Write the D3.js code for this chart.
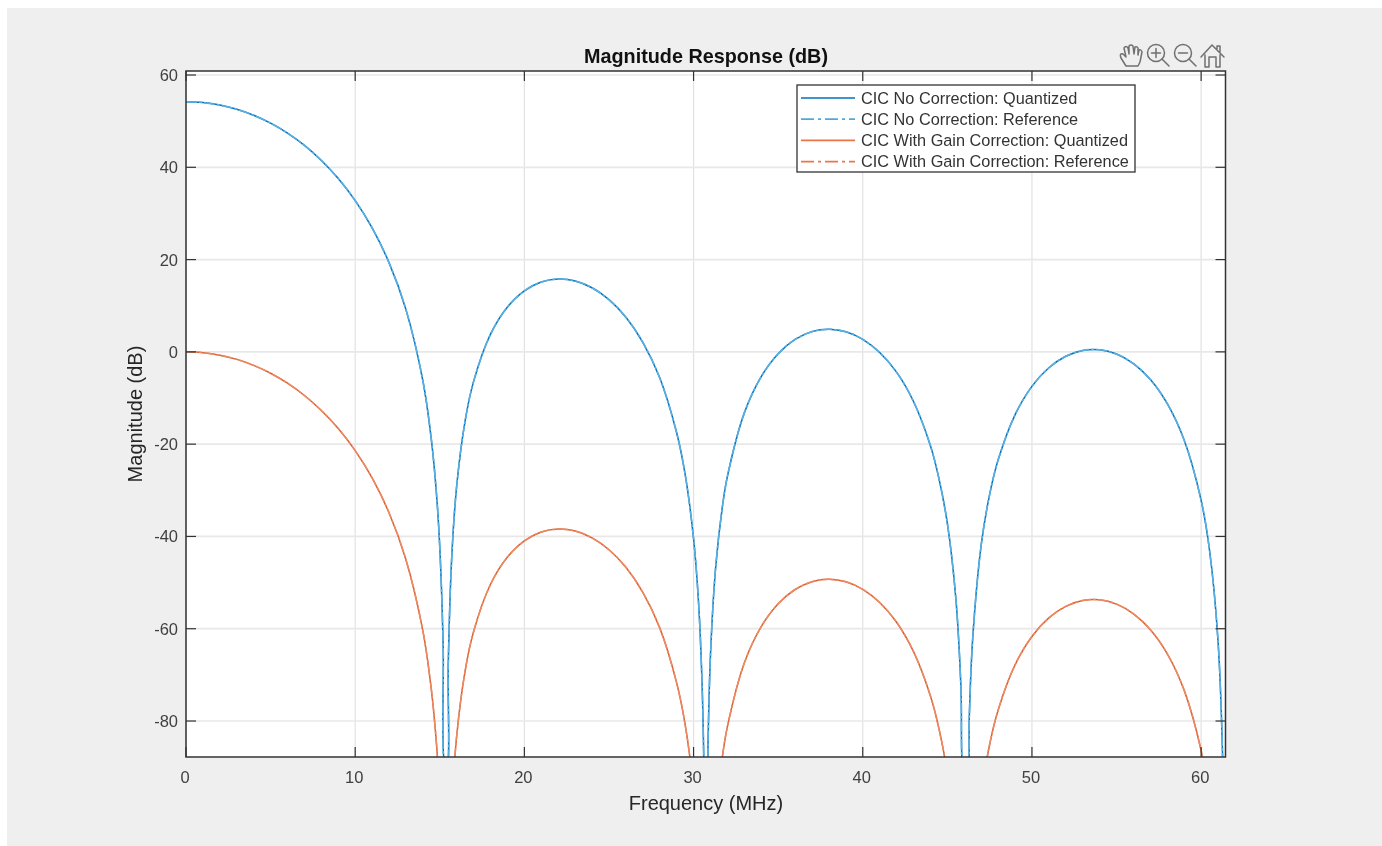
<!DOCTYPE html>
<html>
<head>
<meta charset="utf-8">
<script src="https://cdn.jsdelivr.net/npm/d3@7/dist/d3.min.js"></script>
<style>
html,body{margin:0;padding:0;background:#fff;overflow:hidden}
svg{display:block;filter:blur(0.4px)}
text{font-family:"Liberation Sans",Arial,sans-serif}
</style>
</head>
<body>
<div id="chart"></div>
<script>
const titleText = "Magnitude Response (dB)";
const xLabel = "Frequency (MHz)";
const yLabel = "Magnitude (dB)";
const xTicks = [0,10,20,30,40,50,60];
const yTicks = [60,40,20,0,-20,-40,-60,-80];
const seriesNames = ["CIC No Correction: Quantized","CIC No Correction: Reference","CIC With Gain Correction: Quantized","CIC With Gain Correction: Reference"];

const frequency = [0,1,2,3,4,5,6,7,8,9,10,11,12,13,14,14.5,14.8,15,15.2,15.3,15.42,15.5,15.7,16,16.5,17,18,19,20,21,22,23,24,25,26,27,28,29,29.5,30,30.3,30.5,30.6,30.64,30.8,30.85,31,31.3,31.7,32,33,34,35,36,37,38,39,40,41,42,43,44,44.5,45,45.5,45.8,45.95,46.2,46.3,46.5,47,47.5,48,49,50,51,52,53,54,55,56,57,58,59,60,60.5,61,61.3,61.44];

const noCorrectionQuantized = [54.2,54.02,53.48,52.58,51.27,49.56,47.4,44.74,41.49,37.57,32.79,26.88,19.35,9.16,-6.26,-18.95,-30.55,-42.37,-63.8,-89.5,-89.85,-67.77,-44.99,-29.02,-14.89,-6.4,3.83,9.73,13.24,15.15,15.8,15.37,13.89,11.31,7.51,2.08,-5.62,-17.53,-26.51,-40.49,-54.67,-71.6,-87.45,-98,-98,-85.6,-65.69,-46.95,-33.65,-27,-13.22,-5.35,-0.4,2.7,4.39,4.91,4.37,2.72,-0.13,-4.4,-10.76,-20.36,-27.4,-37.17,-53.36,-72.37,-92.35,-94.6,-78.8,-62.04,-41.86,-30.89,-23.45,-13.64,-7.47,-3.45,-0.95,0.31,0.46,-0.47,-2.57,-6,-11.23,-19.16,-32.19,-43.1,-62.76,-92.6,-150];
const noCorrectionReference = noCorrectionQuantized;

const gainCorrectionQuantized = [0,-0.18,-0.72,-1.62,-2.93,-4.64,-6.8,-9.46,-12.71,-16.63,-21.41,-27.32,-34.85,-45.04,-60.46,-73.15,-84.75,-96.57,-118,-143.7,-144.05,-121.97,-99.19,-83.22,-69.09,-60.6,-50.37,-44.47,-40.96,-39.05,-38.4,-38.83,-40.31,-42.89,-46.69,-52.12,-59.82,-71.73,-80.71,-94.69,-108.87,-125.8,-141.65,-152,-152,-139.8,-119.89,-101.15,-87.85,-81.2,-67.42,-59.55,-54.6,-51.5,-49.81,-49.29,-49.83,-51.48,-54.33,-58.6,-64.96,-74.56,-81.6,-91.37,-107.56,-126.57,-146.55,-148.8,-133,-116.2,-96.06,-85.09,-77.65,-67.84,-61.67,-57.65,-55.15,-53.89,-53.74,-54.67,-56.77,-60.2,-65.43,-73.36,-86.39,-97.3,-116.96,-146.8,-200];
const gainCorrectionReference = gainCorrectionQuantized;

const W = 1382, H = 846;
const plot = {l:186, r:1225.5, t:71, b:757};
const x = d3.scaleLinear().domain([0,61.44]).range([plot.l,plot.r]);
const y = d3.scaleLinear().domain([60.87,-87.8]).range([plot.t,plot.b]);

const svg = d3.select("#chart").append("svg").attr("width",W).attr("height",H);
svg.append("rect").attr("x",7).attr("y",8).attr("width",W-7).attr("height",H-8).attr("fill","#efefef");
svg.append("rect").attr("x",plot.l).attr("y",plot.t).attr("width",plot.r-plot.l).attr("height",plot.b-plot.t).attr("fill","#fff");

// grid
svg.append("g").selectAll("line").data(xTicks).join("line")
  .attr("x1",d=>x(d)).attr("x2",d=>x(d)).attr("y1",plot.t).attr("y2",plot.b)
  .attr("stroke","#e2e2e2").attr("stroke-width",1.2);
svg.append("g").selectAll("line").data(yTicks).join("line")
  .attr("y1",d=>y(d)).attr("y2",d=>y(d)).attr("x1",plot.l).attr("x2",plot.r)
  .attr("stroke","#e8e8e8").attr("stroke-width",1.7);

// curves
svg.append("defs").append("clipPath").attr("id","plotClip").append("rect")
  .attr("x",plot.l).attr("y",plot.t).attr("width",plot.r-plot.l).attr("height",plot.b-plot.t);
const line = d3.line().x((d,i)=>x(frequency[i])).y(d=>y(d)).curve(d3.curveCatmullRom.alpha(0.5));
const styles = [
  {data:gainCorrectionQuantized,color:"#d95f2e",dash:null,w:1.5},
  {data:gainCorrectionReference,color:"#ee8a63",dash:"11 2 3 2",w:1.5},
  {data:noCorrectionQuantized,color:"#0072bd",dash:null,w:1.5},
  {data:noCorrectionReference,color:"#5aafe2",dash:"11 2 3 2",w:1.6}
];
const curves = svg.append("g").attr("clip-path","url(#plotClip)");
styles.forEach(s=>{
  curves.append("path").attr("d",line(s.data)).attr("fill","none")
    .attr("stroke",s.color).attr("stroke-width",s.w).attr("stroke-dasharray",s.dash);
});

// axes box
const axisColor = "#333";
svg.append("rect").attr("x",plot.l).attr("y",plot.t).attr("width",plot.r-plot.l).attr("height",plot.b-plot.t)
  .attr("fill","none").attr("stroke",axisColor).attr("stroke-width",1.5);

const tickLen = 10;
const ticks = svg.append("g").attr("stroke",axisColor).attr("stroke-width",1.2);
xTicks.forEach(d=>{
  ticks.append("line").attr("x1",x(d)).attr("x2",x(d)).attr("y1",plot.b).attr("y2",plot.b-tickLen);
  ticks.append("line").attr("x1",x(d)).attr("x2",x(d)).attr("y1",plot.t).attr("y2",plot.t+tickLen);
});
yTicks.forEach(d=>{
  ticks.append("line").attr("y1",y(d)).attr("y2",y(d)).attr("x1",plot.l).attr("x2",plot.l+tickLen);
  ticks.append("line").attr("y1",y(d)).attr("y2",y(d)).attr("x1",plot.r).attr("x2",plot.r-tickLen);
});

// tick labels
svg.append("g").selectAll("text").data(xTicks).join("text")
  .attr("x",d=>x(d)-1).attr("y",plot.b+26).attr("text-anchor","middle")
  .attr("font-size",16.5).attr("fill","#404040").text(d=>d);
svg.append("g").selectAll("text").data(yTicks).join("text")
  .attr("x",plot.l-8).attr("y",d=>y(d)+6).attr("text-anchor","end")
  .attr("font-size",16.5).attr("fill","#404040").text(d=>d);

// labels
svg.append("text").attr("x",706).attr("y",63).attr("text-anchor","middle")
  .attr("font-size",19.8).attr("font-weight","bold").attr("fill","#111").text(titleText);
svg.append("text").attr("x",706).attr("y",810).attr("text-anchor","middle")
  .attr("font-size",20).attr("fill","#262626").text(xLabel);
svg.append("text").attr("transform","translate(142,414) rotate(-90)").attr("text-anchor","middle")
  .attr("font-size",20).attr("fill","#262626").text(yLabel);

// legend
const legend = svg.append("g");
legend.append("rect").attr("x",797).attr("y",85).attr("width",338).attr("height",87)
  .attr("fill","#fff").attr("stroke","#333").attr("stroke-width",1.3);
const legendColors = ["#0072bd","#4fa8e0","#ec7548","#ec7548"];
const legendDash = [null,"13 4 3 4",null,"13 4 3 4"];
seriesNames.forEach((n,i)=>{
  const yy = 98 + i*21.2;
  legend.append("line").attr("x1",801).attr("x2",855).attr("y1",yy).attr("y2",yy)
    .attr("stroke",legendColors[i]).attr("stroke-width",1.7).attr("stroke-dasharray",legendDash[i]);
  legend.append("text").attr("x",861).attr("y",yy+5.5).attr("font-size",16.3).attr("fill","#333").text(n);
});

// toolbar icons
const tb = svg.append("g").attr("fill","none").attr("stroke","#707070").attr("stroke-width",1.5).attr("stroke-linecap","round").attr("stroke-linejoin","round");
tb.append("path").attr("d","M1126 66 L1121 58 Q1119 53 1123 54 L1126 57 L1124 48 Q1126 45 1128 48 L1129 54 L1129 46 Q1131 44 1133 46 L1134 54 L1135 47 Q1137 46 1138 48 L1138 55 L1139 50 Q1141 49 1142 52 L1140 62 L1138 66 Z");
[[1156,53,"plus"],[1183,53,"minus"]].forEach(([cx,cy,k])=>{
  tb.append("circle").attr("cx",cx).attr("cy",cy).attr("r",8.5);
  tb.append("path").attr("d",`M${cx+6} ${cy+6} L${cx+13} ${cy+13}`);
  tb.append("path").attr("d",k==="plus"?`M${cx-4.5} ${cy} H${cx+4.5} M${cx} ${cy-4.5} V${cy+4.5}`:`M${cx-4.5} ${cy} H${cx+4.5}`);
});
tb.append("path").attr("d","M1201 57 L1212 45 L1224 57 M1205 55 V67 H1209 V57 H1216 V67 H1220 V55 M1217 49 V46 H1220 V52");
</script>
</body>
</html>
